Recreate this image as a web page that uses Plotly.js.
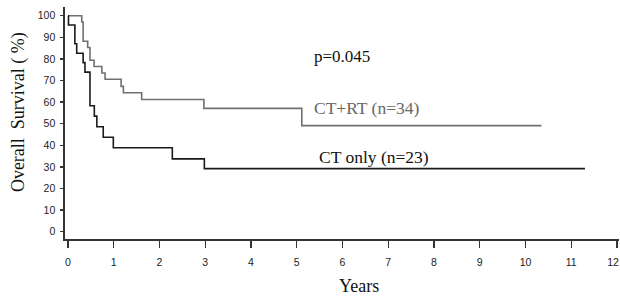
<!DOCTYPE html>
<html>
<head>
<meta charset="utf-8">
<script src="https://cdn.plot.ly/plotly-3.0.1.min.js"></script>
<style>html,body{margin:0;padding:0;background:#fff;}#chart{width:620px;height:296px;}</style>
</head>
<body>
<div id="chart"></div>
<script>
// Kaplan-Meier step data (years, % survival)
const ctrtYears = [0, 0.30, 0.33, 0.43, 0.48, 0.57, 0.74, 0.81, 1.16, 1.21, 1.61, 2.97, 5.11, 10.35];
const ctrtSurv  = [100, 97.1, 88.2, 85.3, 79.4, 76.5, 73.5, 70.6, 67.3, 64.3, 61.2, 57.1, 49.1, 49.1];

const ctYears = [0, 0.01, 0.15, 0.19, 0.33, 0.37, 0.48, 0.575, 0.63, 0.77, 0.99, 2.28, 2.98, 11.30];
const ctSurv  = [100, 95.7, 87.0, 82.6, 78.3, 73.9, 58.3, 53.5, 48.6, 43.7, 38.9, 33.7, 29.2, 29.2];

const xTicks = [0,1,2,3,4,5,6,7,8,9,10,11,12];
const yTicks = [0,10,20,30,40,50,60,70,80,90,100];

const labels = {
  p: "p=0.045",
  ctrt: "CT+RT (n=34)",
  ct: "CT only (n=23)",
  xTitle: "Years",
  yTitle: "Overall  Survival ( %)"
};

const serif = "Liberation Serif, Times New Roman, serif";
const sans = "Liberation Sans, Arial, sans-serif";

const xRange = [-0.066, 12.044];
const lastX = xTicks[xTicks.length - 1];
const mainXTicks = xTicks.slice(0, -1);

const traces = [
  {x: ctrtYears, y: ctrtSurv, mode: "lines", line: {shape: "hv", color: "#707070", width: 1.6}, hoverinfo: "skip"},
  {x: ctYears, y: ctSurv, mode: "lines", line: {shape: "hv", color: "#1a1a1a", width: 1.6}, hoverinfo: "skip"},
  {x: [lastX], y: [0], xaxis: "x2", mode: "markers", marker: {opacity: 0}, hoverinfo: "skip"}
];

const tickFont = {family: sans, size: 10.5, color: "#222"};

const layout = {
  width: 620, height: 296,
  margin: {l: 65, r: 1, t: 7, b: 57},
  paper_bgcolor: "#fff", plot_bgcolor: "#fff",
  showlegend: false,
  xaxis: {
    range: xRange, tickvals: xTicks, ticktext: xTicks.map(v => v === lastX ? "" : String(v)),
    showgrid: false, zeroline: false, showline: true, linecolor: "#333", linewidth: 1.6,
    ticks: "outside", ticklen: 7, tickwidth: 1.3, tickcolor: "#333",
    ticklabelstandoff: 6,
    tickfont: tickFont
  },
  xaxis2: {
    overlaying: "x", anchor: "y", side: "bottom", range: xRange,
    tickvals: [lastX], ticktext: [String(lastX)],
    showgrid: false, zeroline: false, showline: false, ticks: "outside", ticklen: 7, tickcolor: "rgba(0,0,0,0)",
    ticklabelstandoff: 6, ticklabelshift: -4,
    tickfont: tickFont
  },
  yaxis: {
    range: [-3.38, 104.03], tickvals: yTicks, ticktext: yTicks.map(String),
    showgrid: false, zeroline: false, showline: true, linecolor: "#333", linewidth: 1.6,
    ticks: "outside", ticklen: 3, tickwidth: 1.3, tickcolor: "#333",
    ticklabelstandoff: 3, ticklabeloverflow: "allow",
    tickfont: tickFont
  },
  annotations: [
    {x: 5.33, y: 80.9, xref: "x", yref: "y", text: labels.p, showarrow: false, xanchor: "left", yanchor: "middle",
     font: {family: serif, size: 17, color: "#111"}},
    {x: 5.34, y: 57.3, xref: "x", yref: "y", text: labels.ctrt, showarrow: false, xanchor: "left", yanchor: "middle",
     font: {family: serif, size: 17.5, color: "#666"}},
    {x: 5.44, y: 34.6, xref: "x", yref: "y", text: labels.ct, showarrow: false, xanchor: "left", yanchor: "middle",
     font: {family: serif, size: 17.5, color: "#111"}},
    {x: 6.36, y: -0.201, xref: "x", yref: "paper", text: labels.xTitle, showarrow: false, xanchor: "center", yanchor: "middle",
     font: {family: serif, size: 18, color: "#111"}},
    {x: -0.0848, y: 0.547, xref: "paper", yref: "paper", text: labels.yTitle, showarrow: false, textangle: -90,
     xanchor: "center", yanchor: "middle", font: {family: serif, size: 18, color: "#111"}}
  ]
};

Plotly.newPlot("chart", traces, layout, {staticPlot: true, displayModeBar: false});
</script>
</body>
</html>
